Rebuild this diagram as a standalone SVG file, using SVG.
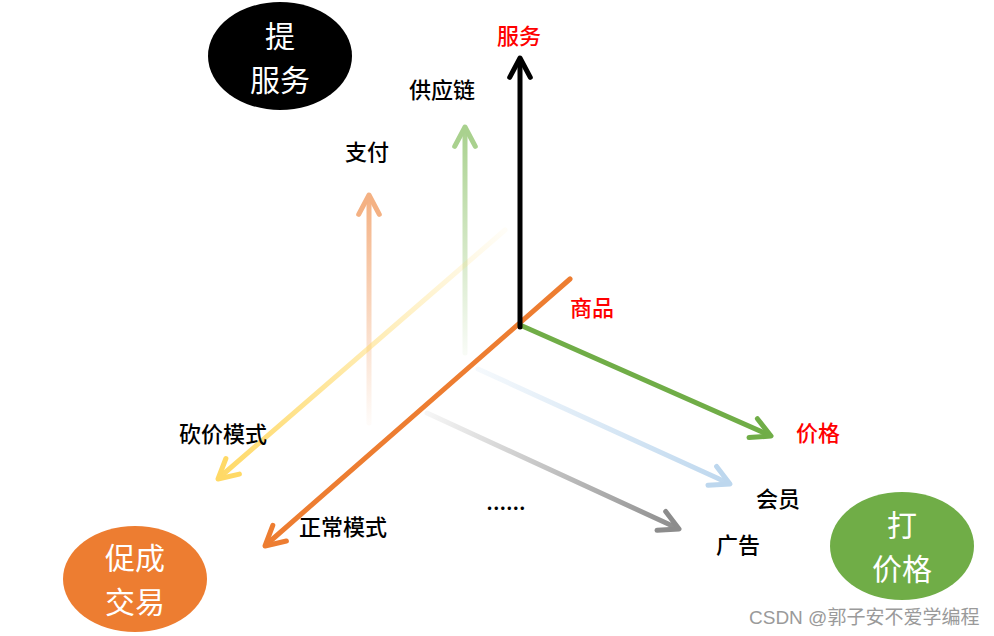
<svg xmlns="http://www.w3.org/2000/svg" width="994" height="636" viewBox="0 0 994 636">
<style>
.lbl{font-family:"Noto Sans CJK SC",sans-serif;font-size:22px;font-weight:500;text-anchor:middle;dominant-baseline:central;fill:#000}
.red{fill:#FF0000}
.big{font-family:"Noto Sans CJK SC",sans-serif;font-size:30px;text-anchor:middle;dominant-baseline:central;fill:#fff}
.ln{fill:none;stroke-width:5;stroke-linecap:round;stroke-linejoin:round}
.wm{font-family:"Liberation Sans","Noto Sans CJK SC",sans-serif;font-size:19px;fill:#9a9a9a}
</style>
<defs>
<linearGradient id="gPeach" gradientUnits="userSpaceOnUse" x1="369" y1="423" x2="369" y2="195">
<stop offset="0" stop-color="#F4B183" stop-opacity="0.05"/><stop offset="1" stop-color="#F4B183"/></linearGradient>
<linearGradient id="gGreen" gradientUnits="userSpaceOnUse" x1="465" y1="353" x2="465" y2="127">
<stop offset="0" stop-color="#A9D18E" stop-opacity="0.08"/><stop offset="1" stop-color="#A9D18E"/></linearGradient>
<linearGradient id="gYellow" gradientUnits="userSpaceOnUse" x1="505" y1="230" x2="218" y2="479">
<stop offset="0" stop-color="#FFD966" stop-opacity="0.05"/><stop offset="1" stop-color="#FFD966"/></linearGradient>
<linearGradient id="gBlue" gradientUnits="userSpaceOnUse" x1="478" y1="369" x2="730" y2="484">
<stop offset="0" stop-color="#BDD7EE" stop-opacity="0.15"/><stop offset="1" stop-color="#BDD7EE"/></linearGradient>
<linearGradient id="gGray" gradientUnits="userSpaceOnUse" x1="427" y1="413" x2="679" y2="529">
<stop offset="0" stop-color="#8C8C8C" stop-opacity="0.08"/><stop offset="1" stop-color="#8C8C8C"/></linearGradient>
</defs>
<g id="connectors">
<g id="peach-arrow"><path class="ln" stroke="url(#gPeach)" d="M369,423 L369,197"/><path class="ln" stroke="#F4B183" d="M358.7,214.4 L369,195 L379.3,214.4"/></g>
<g id="lightgreen-arrow"><path class="ln" stroke="url(#gGreen)" d="M465,353 L465,129"/><path class="ln" stroke="#A9D18E" d="M454.7,146.4 L465,127 L475.3,146.4"/></g>
<g id="yellow-arrow"><path class="ln" stroke="url(#gYellow)" d="M505,230 L220,477"/><path class="ln" stroke="#FFD966" d="M239.4,474.1 L218,479 L225.9,458.5"/></g>
<g id="blue-arrow"><path class="ln" stroke="url(#gBlue)" d="M478,369 L728,483"/><path class="ln" stroke="#BDD7EE" d="M716.6,466.5 L730,484 L708,485.3"/></g>
<g id="gray-arrow"><path class="ln" stroke="url(#gGray)" d="M427,413 L677,528"/><path class="ln" stroke="#8C8C8C" d="M665.7,511.5 L679,529 L657,530.3"/></g>
<g id="orange-axis"><path class="ln" stroke="#ED7D31" d="M570,279 L267,544"/><path class="ln" stroke="#ED7D31" d="M286.4,541 L265,546 L272.8,525.4"/></g>
<g id="green-axis"><path class="ln" stroke="#70AD47" d="M520,325 L769,435"/><path class="ln" stroke="#70AD47" d="M757.4,418.7 L771,436 L749,437.6"/></g>
<g id="black-axis"><path class="ln" stroke="#000" stroke-width="6" stroke-linecap="butt" d="M520,327 L520,61"/><path class="ln" stroke="#000" stroke-width="6" d="M509.7,77.4 L520,58 L530.3,77.4"/></g>
</g>
<g id="node-service-ellipse"><ellipse cx="280" cy="56" rx="72" ry="54" fill="#000"/><text class="big"><tspan x="280" y="34">提</tspan><tspan x="280" y="78">服务</tspan></text></g>
<g id="node-deal-ellipse"><ellipse cx="135" cy="579" rx="72" ry="53" fill="#ED7D31"/><text class="big"><tspan x="135" y="556">促成</tspan><tspan x="135" y="600">交易</tspan></text></g>
<g id="node-price-ellipse"><ellipse cx="902" cy="546" rx="72" ry="54" fill="#70AD47"/><text class="big"><tspan x="902" y="523">打</tspan><tspan x="902" y="567">价格</tspan></text></g>
<g id="labels">
<text class="lbl red" x="519" y="34">服务</text>
<text class="lbl" x="442" y="88">供应链</text>
<text class="lbl" x="367" y="150">支付</text>
<text class="lbl red" x="592" y="306">商品</text>
<text class="lbl red" x="818" y="431">价格</text>
<text class="lbl" x="778" y="497">会员</text>
<text class="lbl" x="738" y="543">广告</text>
<text class="lbl" x="223" y="432">砍价模式</text>
<text class="lbl" x="343" y="525">正常模式</text>
<text class="lbl" x="506" y="500">......</text>
</g>
<text class="wm" x="749" y="624">CSDN @郭子安不爱学编程</text>
</svg>
